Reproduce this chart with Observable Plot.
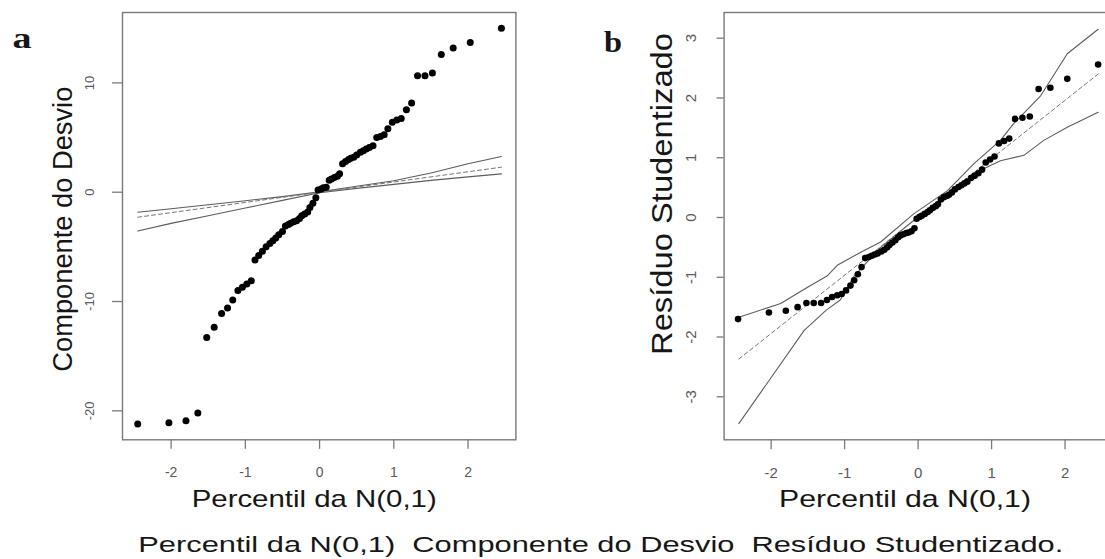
<!DOCTYPE html>
<html><head><meta charset="utf-8">
<script src="https://cdn.jsdelivr.net/npm/d3@7"></script>
<script src="https://cdn.jsdelivr.net/npm/@observablehq/plot@0.6"></script>
<style>
body{margin:0;background:#fff;}
#wrap{position:relative;width:1105px;height:559px;overflow:hidden;background:#fff;}
.panel{position:absolute;top:0;}
.panel svg{max-width:none !important;}
#overlay{position:absolute;left:0;top:0;pointer-events:none;}
#overlay text{fill:#161616;font-family:"Liberation Sans",Arial,sans-serif;white-space:pre;}
</style></head><body>
<div id="wrap"><div id="pa" class="panel" style="left:0px;width:545px"></div><div id="pb" class="panel" style="left:560px;width:600px"></div><svg id="overlay" width="1105" height="559"></svg></div>
<script>
// Percentis da N(0,1) (eixo x)
const percentis = [-2.45,-2.03,-1.80,-1.64,-1.52,-1.42,-1.32,-1.24,-1.17,-1.10,-1.04,-0.98,-0.92,-0.87,-0.82,-0.77,-0.72,-0.67,-0.63,-0.59,-0.55,-0.50,-0.46,-0.42,-0.39,-0.35,-0.31,-0.27,-0.24,-0.20,-0.16,-0.13,-0.09,-0.05,-0.02,
  0.02,0.05,0.09,0.13,0.16,0.20,0.24,0.27,0.31,0.35,0.39,0.42,0.46,0.50,0.55,0.59,0.63,0.67,0.72,0.77,0.82,0.87,0.92,0.98,1.04,1.10,1.17,1.24,1.32,1.42,1.52,1.64,1.80,2.03,2.45];
// Painel a: componente do desvio
const desvio = [-21.2,-21.1,-20.9,-20.2,-13.3,-12.35,-11.1,-10.6,-9.85,-9.0,-8.7,-8.4,-8.1,
  -6.2,-5.8,-5.4,-5.0,-4.7,-4.45,-4.2,-3.9,-3.6,-3.1,-2.95,-2.85,-2.7,-2.6,-2.4,-2.15,-2.0,-1.8,-1.4,-1.0,-0.5,0.2,
  0.3,0.4,0.45,1.1,1.2,1.35,1.45,1.7,2.6,2.8,3.0,3.1,3.2,3.4,3.65,3.8,3.95,4.1,4.25,5.0,5.1,5.25,5.8,6.4,6.6,6.75,7.55,8.15,10.65,10.65,10.9,12.6,13.2,13.7,15.0];
// Painel b: resíduo studentizado
const studentizado = [-1.70,-1.59,-1.56,-1.50,-1.43,-1.43,-1.43,-1.38,-1.33,-1.30,-1.28,-1.22,-1.14,-1.05,-0.95,-0.83,
  -0.68,-0.66,-0.64,-0.62,-0.60,-0.57,-0.54,-0.50,-0.46,-0.42,-0.38,-0.33,-0.30,-0.28,-0.26,-0.25,-0.23,-0.18,-0.02,
  0.01,0.03,0.06,0.09,0.12,0.16,0.19,0.22,0.30,0.34,0.36,0.38,0.42,0.47,0.51,0.54,0.57,0.60,0.66,0.70,0.74,0.80,0.92,0.97,1.02,1.24,1.28,1.32,1.65,1.67,1.69,2.15,2.17,2.32,2.56];
// Envelopes painel a
const envAX = [-2.45,-2.0,-1.5,-1.0,-0.5,0,0.5,1.0,1.5,2.0,2.45];
const envASup = [-1.83,-1.52,-1.15,-0.78,-0.40,0.03,0.55,1.05,1.75,2.60,3.27];
const envAInf = [-3.55,-2.85,-2.15,-1.45,-0.75,-0.05,0.35,0.72,1.08,1.40,1.68];
const medAX = [-2.45,2.45];
const medAY = [-2.29,2.29];
// Envelopes painel b
const envBSupX = [-2.44,-1.87,-1.51,-1.24,-1.10,-0.78,-0.51,-0.06,0.40,0.76,1.12,1.30,1.67,2.03,2.45];
const envBSupY = [-1.67,-1.44,-1.17,-0.98,-0.80,-0.58,-0.41,0.06,0.45,0.90,1.29,1.57,2.04,2.74,3.15];
const envBInfX = [-2.44,-1.55,-1.25,-1.06,-0.87,-0.51,-0.06,0.40,0.85,1.12,1.44,1.71,2.03,2.45];
const envBInfY = [-3.45,-1.89,-1.55,-1.38,-0.98,-0.50,-0.05,0.34,0.79,0.95,1.04,1.29,1.51,1.76];
const medBX = [-2.44,2.45];
const medBY = [-2.37,2.40];
// Ticks
const ticksX = [-2,-1,0,1,2];
const ticksYA = [-20,-10,0,10];
const ticksYB = [-3,-2,-1,0,1,2,3];
// Textos
const tituloX = "Percentil da N(0,1)";
const tituloYA = "Componente do Desvio";
const tituloYB = "Resíduo Studentizado";
const legenda = "Percentil da N(0,1)  Componente do Desvio  Resíduo Studentizado.";

const font = '"Liberation Sans", Arial, Helvetica, sans-serif';
const fmt = d => String(d);
const pts = (xs, ys) => xs.map((x, i) => ({x, y: ys[i]}));
const frameCol = "#7a7a7a", tickTxt = "#5a5a5a", lineCol = "#5c5c5c";

const plotA = Plot.plot({
  width: 545, height: 500, marginLeft: 122, marginRight: 29.6, marginTop: 12, marginBottom: 60.7,
  style: {fontFamily: font, background: "transparent"},
  x: {domain: [-2.655, 2.645]},
  y: {domain: [-22.65, 16.44]},
  marks: [
    Plot.frame({stroke: frameCol, strokeWidth: 1.4}),
    Plot.axisX({ticks: ticksX, tickSize: 9.5, tickPadding: 18, fontSize: 14, stroke: frameCol, fill: tickTxt, strokeWidth: 1.3, label: null, tickFormat: fmt}),
    Plot.axisY({ticks: ticksYA, tickSize: 10, tickPadding: 19, tickRotate: -90, fontSize: 13, stroke: frameCol, fill: tickTxt, strokeWidth: 1.3, label: null, tickFormat: fmt}),
    Plot.line(pts(envAX, envASup), {x: "x", y: "y", stroke: lineCol, strokeWidth: 1.1}),
    Plot.line(pts(envAX, envAInf), {x: "x", y: "y", stroke: lineCol, strokeWidth: 1.1}),
    Plot.line(pts(medAX, medAY), {x: "x", y: "y", stroke: "#777", strokeWidth: 1, strokeDasharray: "4,3"}),
    Plot.dot(pts(percentis, desvio), {x: "x", y: "y", r: 3.5, fill: "#000", stroke: null})
  ]
});
document.getElementById("pa").appendChild(plotA);

const plotB = Plot.plot({
  width: 600, height: 500, marginLeft: 163.6, marginRight: 48.4, marginTop: 12, marginBottom: 60.7,
  style: {fontFamily: font, background: "transparent"},
  x: {domain: [-2.64, 2.64]},
  y: {domain: [-3.72, 3.43]},
  marks: [
    Plot.frame({stroke: frameCol, strokeWidth: 1.4}),
    Plot.axisX({ticks: ticksX, tickSize: 10, tickPadding: 18, fontSize: 15, stroke: frameCol, fill: tickTxt, strokeWidth: 1.3, label: null, tickFormat: fmt}),
    Plot.axisY({ticks: ticksYB, tickSize: 7, tickPadding: 21, tickRotate: -90, fontSize: 15, stroke: frameCol, fill: tickTxt, strokeWidth: 1.3, label: null, tickFormat: fmt}),
    Plot.line(pts(envBSupX, envBSupY), {x: "x", y: "y", stroke: lineCol, strokeWidth: 1.1}),
    Plot.line(pts(envBInfX, envBInfY), {x: "x", y: "y", stroke: lineCol, strokeWidth: 1.1}),
    Plot.line(pts(medBX, medBY), {x: "x", y: "y", stroke: "#777", strokeWidth: 1, strokeDasharray: "4,3"}),
    Plot.dot(pts(percentis, studentizado), {x: "x", y: "y", r: 3.3, fill: "#000", stroke: null})
  ]
});
document.getElementById("pb").appendChild(plotB);

// Overlay texts
const ov = d3.select("#overlay");
function txt(s, x, y, size, len, opts = {}) {
  const t = ov.append("text").text(s)
    .attr("font-size", size)
    .attr("xml:space", "preserve")
    .attr("textLength", len).attr("lengthAdjust", "spacingAndGlyphs");
  if (opts.rotate) t.attr("transform", `translate(${x},${y}) rotate(-90)`);
  else t.attr("x", x).attr("y", y);
  if (opts.serif) t.style("font-family", '"Liberation Serif","Times New Roman",serif').attr("font-weight", "bold");
  return t;
}
txt("a", 12.5, 48, 30, 19, {serif: true});
txt("b", 604, 52, 30, 18, {serif: true});
txt(tituloX, 191.7, 506.7, 24, 245);
txt(tituloX, 779, 506.7, 24, 252);
txt(tituloYA, 72, 371.7, 27, 285, {rotate: true});
txt(tituloYB, 671.7, 355, 30, 322, {rotate: true});
txt(legenda, 138.3, 551.7, 22, 925);
</script>
</body></html>
